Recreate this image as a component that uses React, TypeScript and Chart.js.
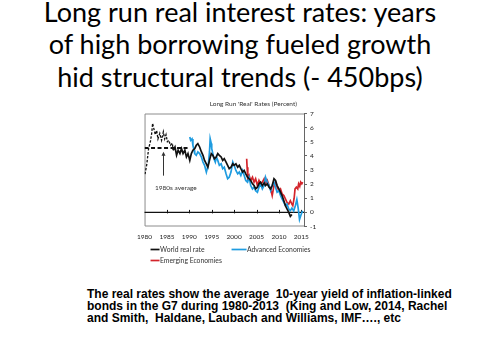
import React, { useEffect, useRef } from 'react';
import { Chart, registerables } from 'chart.js';
Chart.register(...registerables);

// ---------- DATA ----------
const TITLE_LINES = [
  'Long run real interest rates: years',
  'of high borrowing fueled growth',
  'hid structural trends (- 450bps)',
];
const NOTE_LINES = [
  'The real rates show the average  10-year yield of inflation-linked',
  'bonds in the G7 during 1980-2013  (King and Low, 2014, Rachel',
  'and Smith,  Haldane, Laubach and Williams, IMF…., etc',
];
const CHART_TITLE = "Long Run 'Real' Rates (Percent)";

const X_TICKS = [1980, 1985, 1990, 1995, 2000, 2005, 2010, 2015];
const Y_TICKS = [-1, 0, 1, 2, 3, 4, 5, 6, 7];

const WORLD_EARLY_YEARS = [1980.1, 1980.5, 1980.9, 1981.3, 1981.6, 1981.8, 1982.1, 1982.4, 1982.7, 1983.0, 1983.4, 1983.8, 1984.2, 1984.5, 1984.8, 1985.1, 1985.4, 1985.8, 1986.2, 1986.4];
const WORLD_EARLY_VALUES = [2.7, 3.4, 4.5, 5.0, 5.6, 6.3, 5.9, 5.5, 5.8, 5.2, 5.6, 5.1, 5.7, 5.2, 5.5, 5.0, 5.1, 4.75, 4.9, 4.4];

const WORLD_YEARS = [1986.4, 1986.8, 1987.15, 1987.5, 1987.9, 1988.25, 1988.6, 1989.0, 1989.35, 1989.7, 1990.1, 1990.45, 1990.8, 1991.2, 1991.55, 1991.9, 1992.3, 1992.7, 1993.05, 1993.4, 1993.8, 1994.15, 1994.5, 1994.9, 1995.25, 1995.6, 1996.0, 1996.35, 1996.7, 1997.1, 1997.45, 1997.8, 1998.2, 1998.55, 1998.9, 1999.3, 1999.7, 2000.0, 2000.4, 2000.8, 2001.15, 2001.5, 2001.9, 2002.25, 2002.6, 2003.0, 2003.35, 2003.7, 2004.1, 2004.45, 2004.8, 2005.2, 2005.55, 2005.9, 2006.3, 2006.7, 2007.0, 2007.4, 2007.8, 2008.15, 2008.5, 2008.9, 2009.25, 2009.6, 2010.0, 2010.35, 2010.7, 2011.1, 2011.45, 2011.8, 2012.2, 2012.55, 2012.9];
const WORLD_VALUES = [4.4, 4.63, 4.04, 4.4, 4.16, 4.51, 4.16, 4.4, 3.92, 4.16, 3.68, 4.16, 4.4, 4.51, 4.75, 4.87, 4.63, 4.28, 4.04, 3.68, 3.44, 3.2, 3.68, 4.16, 4.04, 3.8, 3.92, 4.16, 4.04, 3.92, 3.68, 3.8, 3.56, 3.33, 3.09, 3.2, 3.44, 3.33, 3.44, 3.2, 3.33, 3.09, 2.85, 2.97, 2.73, 2.49, 2.38, 2.26, 2.02, 1.9, 1.66, 1.78, 2.02, 2.14, 1.9, 2.09, 1.9, 2.02, 1.78, 1.66, 1.9, 2.38, 2.26, 1.9, 1.66, 1.43, 1.19, 0.83, 0.48, 0.24, 0.0, -0.28, -0.15];

const ADV_YEARS = [1990.1, 1990.3, 1990.6, 1990.8, 1991.05, 1991.2, 1991.55, 1991.9, 1992.3, 1992.7, 1993.05, 1993.4, 1993.8, 1994.0, 1994.3, 1994.5, 1994.65, 1994.9, 1995.0, 1995.25, 1995.5, 1995.8, 1996.05, 1996.35, 1996.7, 1997.1, 1997.45, 1997.8, 1998.2, 1998.55, 1998.9, 1999.3, 1999.7, 2000.0, 2000.4, 2000.8, 2001.15, 2001.5, 2001.9, 2002.25, 2002.6, 2003.0, 2003.35, 2003.7, 2004.1, 2004.45, 2004.8, 2005.2, 2005.55, 2005.9, 2006.3, 2006.7, 2007.0, 2007.4, 2007.8, 2008.15, 2008.5, 2008.9, 2009.25, 2009.6, 2010.0, 2010.35, 2010.7, 2011.1, 2011.45, 2011.8, 2012.2, 2012.55, 2012.9, 2013.3, 2013.7, 2014.0, 2014.3, 2014.6, 2014.9, 2015.2, 2015.4];
const ADV_VALUES = [5.34, 5.1, 5.2, 4.75, 4.4, 4.16, 4.04, 4.28, 4.16, 3.92, 3.56, 3.33, 2.85, 3.09, 3.56, 4.28, 5.22, 4.87, 4.51, 4.16, 3.8, 3.56, 3.92, 3.68, 3.33, 3.44, 3.09, 3.2, 2.73, 2.38, 2.49, 2.85, 3.56, 3.33, 2.97, 2.73, 2.85, 2.61, 2.97, 2.61, 2.26, 2.14, 2.49, 1.9, 1.66, 1.78, 1.54, 1.43, 1.78, 2.02, 1.66, 1.9, 2.49, 2.14, 1.9, 1.54, 1.9, 2.14, 1.78, 1.43, 1.54, 1.19, 0.95, 0.71, 0.48, 0.59, 0.24, 0.12, 0.3, 0.1, 0.5, 0.9, 0.3, -0.5, -0.2, 0.05, 0.0];

const EM_YEARS = [2002.8, 2002.9, 2003.05, 2003.35, 2003.7, 2004.1, 2004.45, 2004.8, 2005.2, 2005.55, 2005.9, 2006.3, 2006.7, 2007.0, 2007.4, 2007.8, 2008.15, 2008.5, 2008.9, 2009.25, 2009.6, 2010.0, 2010.35, 2010.7, 2011.1, 2011.45, 2011.8, 2012.2, 2012.55, 2012.9, 2013.1, 2013.4, 2013.6, 2013.9, 2014.2, 2014.4, 2014.65, 2014.85, 2015.1, 2015.3];
const EM_VALUES = [3.8, 3.2, 2.38, 2.61, 2.26, 2.49, 2.14, 2.38, 1.9, 2.26, 2.02, 2.14, 2.38, 2.02, 2.26, 1.9, 1.66, 1.19, 1.9, 2.14, 1.78, 1.54, 1.66, 1.31, 1.19, 0.95, 0.71, 0.59, 0.83, 0.59, 0.48, 1.0, 1.66, 1.78, 1.66, 2.02, 1.85, 2.14, 2.02, 2.15];

const AVG_YEARS = [1980, 1990];
const AVG_VALUES = [4.55, 4.55];
const AVG_LABEL = '1980s average';
const ARROW_YEAR = 1984.1;
const ARROW_FROM = 2.6;
const ARROW_TO = 4.3;
const AVG_LABEL_AT = { year: 1987.0, value: 1.75 };

const SERIES_LABELS = ['World real rate', 'Advanced Economies', 'Emerging Economies'];

const pts = (xs: number[], ys: number[]) => xs.map((x, i) => ({ x, y: ys[i] }));

const CHART_FONT = 'Lato, "Open Sans", sans-serif';
const BLACK = '#111111';
const BLUE = '#1f9ce0';
const RED = '#d3242b';

const decorPlugin = {
  id: 'decor',
  beforeDatasetsDraw(chart: any) {
    const { ctx, chartArea: a, scales } = chart;
    const xs = scales.x, ys = scales.y;
    ctx.save();
    // frame
    ctx.strokeStyle = '#8c8c8c';
    ctx.lineWidth = 1;
    ctx.beginPath();
    ctx.moveTo(a.right, a.top + 0.5);
    ctx.lineTo(a.left + 0.5, a.top + 0.5);
    ctx.lineTo(a.left + 0.5, a.bottom - 0.5);
    ctx.lineTo(a.right, a.bottom - 0.5);
    ctx.stroke();
    // zero line with ticks
    const y0 = ys.getPixelForValue(0);
    ctx.strokeStyle = BLACK;
    ctx.lineWidth = 1.3;
    ctx.beginPath();
    ctx.moveTo(a.left, y0);
    ctx.lineTo(a.right, y0);
    ctx.stroke();
    ctx.lineWidth = 1;
    X_TICKS.forEach((v) => {
      if (v === X_TICKS[0]) return;
      const px = Math.round(xs.getPixelForValue(v)) + 0.5;
      ctx.beginPath();
      ctx.moveTo(px, y0 - 2.5);
      ctx.lineTo(px, y0 + 1);
      ctx.stroke();
    });
    ctx.restore();
  },
  afterDatasetsDraw(chart: any) {
    const { ctx, chartArea: a, scales, data } = chart;
    const xs = scales.x, ys = scales.y;
    ctx.save();
    // arrow
    const ax = Math.round(xs.getPixelForValue(ARROW_YEAR)) + 0.5;
    const ay1 = ys.getPixelForValue(ARROW_FROM);
    const ay2 = ys.getPixelForValue(ARROW_TO);
    ctx.strokeStyle = '#333';
    ctx.fillStyle = '#333';
    ctx.lineWidth = 1;
    ctx.beginPath();
    ctx.moveTo(ax, ay1);
    ctx.lineTo(ax, ay2 + 3);
    ctx.stroke();
    ctx.beginPath();
    ctx.moveTo(ax, ay2);
    ctx.lineTo(ax - 2, ay2 + 4);
    ctx.lineTo(ax + 2, ay2 + 4);
    ctx.closePath();
    ctx.fill();
    // annotation label
    ctx.font = `6.5px ${CHART_FONT}`;
    ctx.fillStyle = '#333';
    ctx.textAlign = 'center';
    ctx.textBaseline = 'middle';
    ctx.fillText(AVG_LABEL, xs.getPixelForValue(AVG_LABEL_AT.year), ys.getPixelForValue(AVG_LABEL_AT.value));
    // chart title
    ctx.font = `6.5px ${CHART_FONT}`;
    ctx.fillStyle = '#333';
    ctx.textAlign = 'right';
    ctx.fillText(CHART_TITLE, a.right - 7, a.top - 10);
    // legend
    const LEG = [
      { x: a.left + 6, y: a.bottom + 23, len: 9 },
      { x: a.left + 87, y: a.bottom + 23, len: 15 },
      { x: a.left + 6, y: a.bottom + 34, len: 9 },
    ];
    ctx.textAlign = 'left';
    ctx.font = `6.8px ${CHART_FONT}`;
    data.datasets
      .filter((d: any) => SERIES_LABELS.includes(d.label))
      .forEach((d: any) => {
        const p = LEG[SERIES_LABELS.indexOf(d.label)];
        ctx.strokeStyle = d.borderColor;
        ctx.lineWidth = 1.7;
        ctx.beginPath();
        ctx.moveTo(p.x, p.y);
        ctx.lineTo(p.x + p.len, p.y);
        ctx.stroke();
        ctx.fillStyle = '#333';
        ctx.fillText(d.label, p.x + p.len + 0.5, p.y);
      });
    ctx.restore();
  },
};

const TITLE_BASELINES_TOP = [1.6, 34.1, 66.6];

export default function App() {
  const ref = useRef<HTMLCanvasElement>(null);
  useEffect(() => {
    const canvas = ref.current!;
    const line = (data: any[], color: string, width: number, dash: number[] = []) => ({
      data,
      borderColor: color,
      backgroundColor: color,
      borderWidth: width,
      borderDash: dash,
      pointRadius: 0,
      tension: 0,
      fill: false,
    });
    const chart = new Chart(canvas, {
      type: 'line',
      data: {
        datasets: [
          { label: '_avg', ...line(pts(AVG_YEARS, AVG_VALUES), BLACK, 2, [4, 2.5]) },
          { label: '_world_early', ...line(pts(WORLD_EARLY_YEARS, WORLD_EARLY_VALUES), BLACK, 1.3, [2.5, 1.5]) },
          { label: SERIES_LABELS[0], ...line(pts(WORLD_YEARS, WORLD_VALUES), BLACK, 1.7) },
          { label: SERIES_LABELS[1], ...line(pts(ADV_YEARS, ADV_VALUES), BLUE, 1.7) },
          { label: SERIES_LABELS[2], ...line(pts(EM_YEARS, EM_VALUES), RED, 1.7) },
        ],
      } as any,
      options: {
        responsive: false,
        animation: false,
        devicePixelRatio: 1,
        layout: { padding: { left: 12, top: 18.5, right: 0, bottom: 0 } },
        plugins: { legend: { display: false }, tooltip: { enabled: false } },
        scales: {
          x: {
            type: 'linear',
            min: 1980,
            max: 2015.6,
            grid: { display: false, drawTicks: false },
            border: { display: false },
            afterBuildTicks: (s: any) => { s.ticks = X_TICKS.map((v) => ({ value: v })); },
            afterFit: (s: any) => { s.height = 48.5; },
            ticks: {
              autoSkip: false,
              maxRotation: 0,
              padding: 7,
              color: '#222',
              font: { family: CHART_FONT, size: 6.5 },
              callback: (v: any) => String(v),
            },
          },
          y: {
            position: 'right',
            min: -1,
            max: 7,
            grid: { drawOnChartArea: false, drawTicks: true, tickLength: 3, color: '#666' },
            border: { display: true, color: '#666' },
            afterBuildTicks: (s: any) => { s.ticks = Y_TICKS.map((v) => ({ value: v })); },
            afterFit: (s: any) => { s.width = 26; },
            ticks: {
              padding: 3,
              color: '#222',
              font: { family: CHART_FONT, size: 6.5 },
              callback: (v: any) => String(v),
            },
          },
        },
      } as any,
      plugins: [decorPlugin],
    });
    return () => chart.destroy();
  }, []);

  return (
    <div style={{ position: 'absolute', left: 0, top: 0, width: 504, height: 364, background: '#fff', overflow: 'hidden' }}>
      {TITLE_LINES.map((t, i) => (
        <div
          key={i}
          style={{
            position: 'absolute', left: 0, top: TITLE_BASELINES_TOP[i], width: 480, textAlign: 'center',
            fontFamily: 'Lato, "Open Sans", sans-serif', fontSize: 27, lineHeight: '20px', color: '#000', whiteSpace: 'pre',
          }}
        >{t}</div>
      ))}
      <canvas ref={ref} width={200} height={180} style={{ position: 'absolute', left: 130, top: 95, width: 200, height: 180 }} />
      <div style={{ position: 'absolute', left: 87, top: 289.3, fontFamily: '"Liberation Sans", Arial, sans-serif', fontWeight: 'bold', fontSize: 12, lineHeight: '11.8px', color: '#000', whiteSpace: 'pre' }}>
        {NOTE_LINES.join('\n')}
      </div>
    </div>
  );
}
